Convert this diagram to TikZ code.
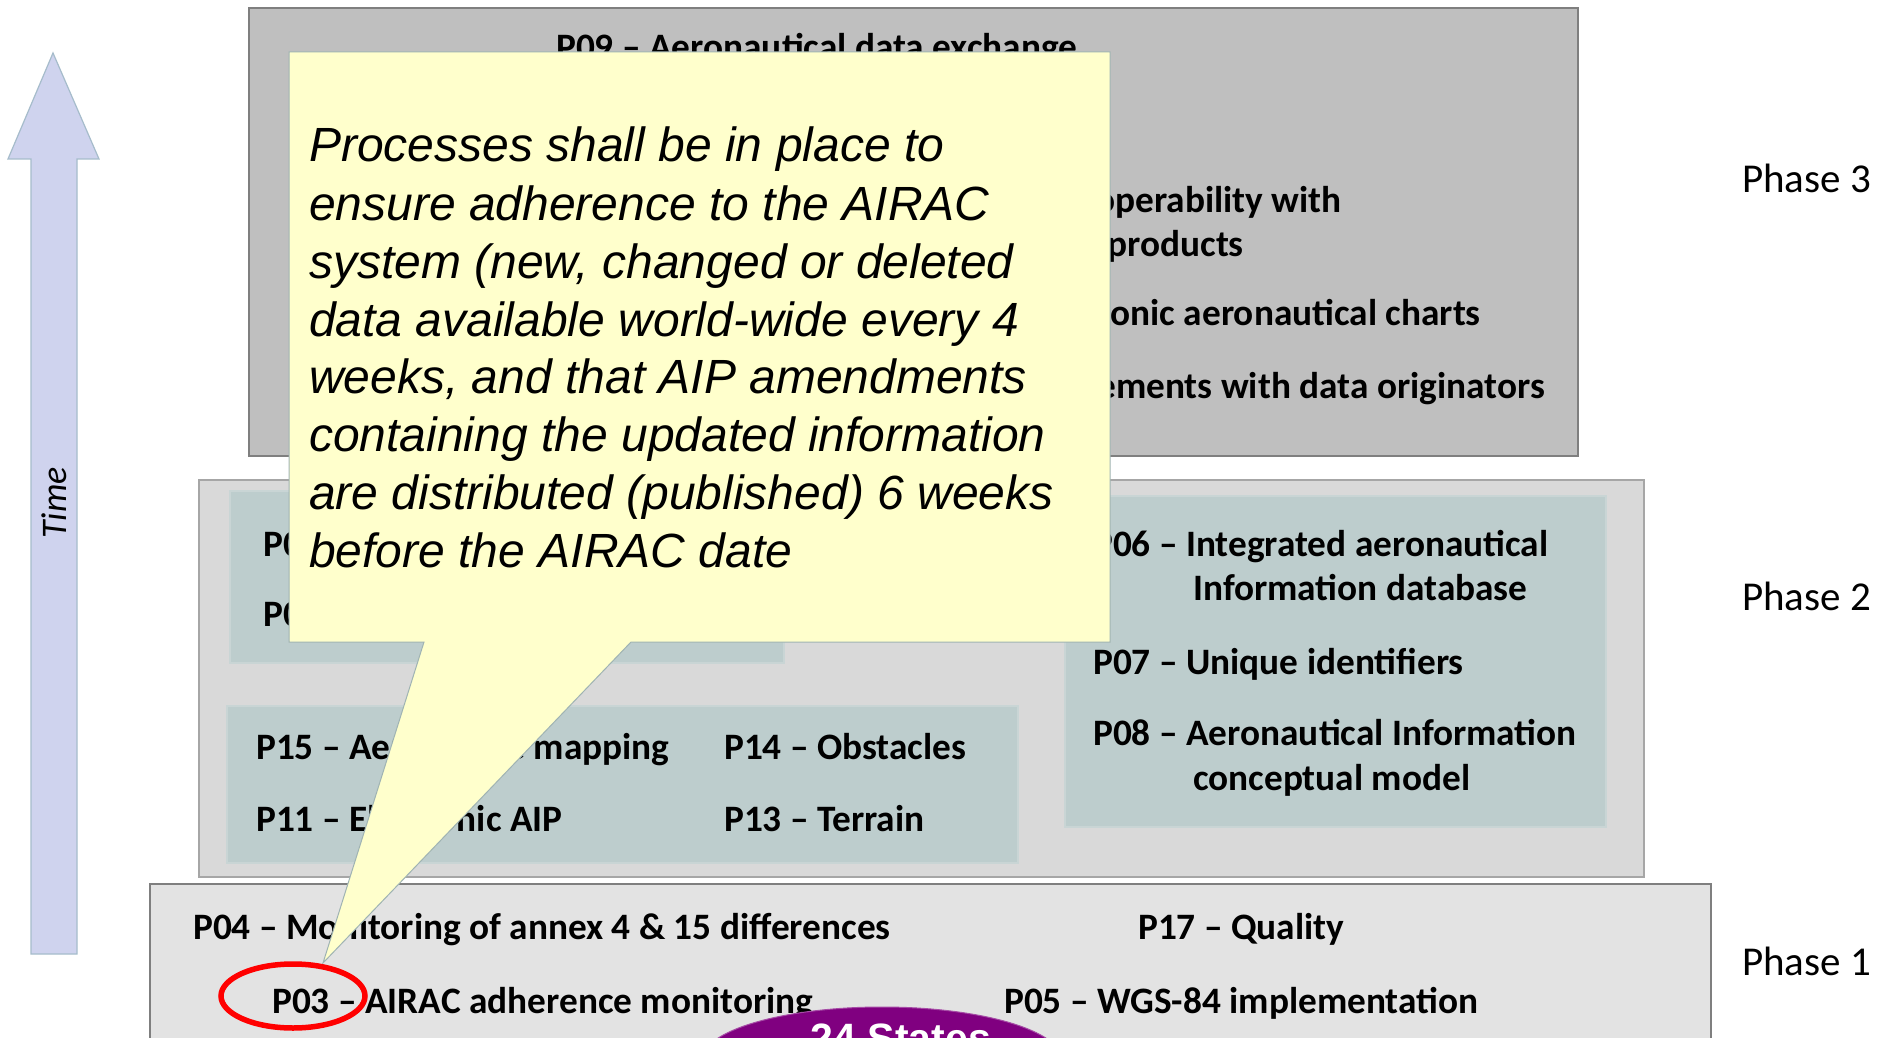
\documentclass[tikz,border=0pt]{standalone}
\usepackage{fontspec}
\setmainfont{Carlito}
\newfontfamily\arialf{Liberation Sans}
\definecolor{pthree}{HTML}{BFBFBF}
\definecolor{ptwo}{HTML}{D9D9D9}
\definecolor{pone}{HTML}{E3E3E3}
\definecolor{innerfill}{HTML}{BDCDCD}
\definecolor{innerline}{HTML}{C9D5D5}
\definecolor{callfill}{HTML}{FFFFCC}
\definecolor{callline}{HTML}{9FB3B3}
\definecolor{arrowfill}{HTML}{CFD3EE}
\definecolor{arrowline}{HTML}{A6BCCB}
\definecolor{boxline}{HTML}{7F7F7F}
\definecolor{purp}{HTML}{800080}
\begin{document}
\begin{tikzpicture}[x=1pt,y=-1pt,
  lbl/.style={font=\fontsize{37.3}{45}\selectfont\bfseries, inner sep=0pt, anchor=base west},
  rlbl/.style={lbl, anchor=base east},
  phaselbl/.style={font=\fontsize{41}{49}\selectfont, inner sep=0pt, anchor=base west},
  calltxt/.style={font=\arialf\itshape\fontsize{48}{58}\selectfont, inner sep=0pt, anchor=base west},
  innerbox/.style={fill=innerfill, draw=innerline, line width=1.2pt},
]
\clip (0,0) rectangle (1891,1038);
\useasboundingbox (0,0) rectangle (1891,1038);
\fill[white] (0,0) rectangle (1891,1038);

% Time arrow
\draw[fill=arrowfill, draw=arrowline, line width=1.2pt]
  (53,53) -- (99,159) -- (77,159) -- (77,954) -- (31,954) -- (31,159) -- (8,159) -- cycle;
\node[rotate=90, font=\fontsize{36}{42}\selectfont\itshape, inner sep=0pt] (time) at (54,503) {Time};

% Phase 3
\draw[fill=pthree, draw=boxline, line width=1.5pt] (249,8) rectangle (1578,456);
\node[lbl] (p09) at (556,60) {P09 – Aeronautical data exchange};
\node[rlbl] (p18a) at (1342,212) {P18 – Interoperability with};
\node[rlbl] (p18b) at (1244,256) {meteorological products};
\node[rlbl] (p19) at (1481,325) {P19 – Electronic aeronautical charts};
\node[rlbl] (p21) at (1545,398) {P21 – Agreements with data originators};

% Phase 2
\draw[fill=ptwo, draw=black!35, line width=1.5pt] (199,480) rectangle (1644,877);
\draw[innerbox] (230,491) rectangle (784,663);
\draw[innerbox] (227,706) rectangle (1018,863);
\draw[innerbox] (1065,496) rectangle (1606,827);
\node[lbl] (p01) at (263,556) {P01 – Data quality monitoring};
\node[lbl] (p02) at (263,626) {P02 – Data integrity monitoring};
\node[lbl] (p15) at (256,759) {P15 – Aerodrome mapping};
\node[lbl] (p14) at (724,759) {P14 – Obstacles};
\node[lbl] (p11) at (256,831) {P11 – Electronic AIP};
\node[lbl] (p13) at (724,831) {P13 – Terrain};
\node[lbl] (p06a) at (1093,556) {P06 – Integrated aeronautical};
\node[lbl] (p06b) at (1193,600) {Information database};
\node[lbl] (p07) at (1093,674) {P07 – Unique identifiers};
\node[lbl] (p08a) at (1093,745) {P08 – Aeronautical Information};
\node[lbl] (p08b) at (1193,790) {conceptual model};

% Phase 1
\draw[fill=pone, draw=boxline, line width=1.5pt] (150,884) rectangle (1711,1060);
\node[lbl] (p04) at (193,939) {P04 – Monitoring of annex 4 \& 15 differences};
\node[lbl] (p17) at (1138,939) {P17 – Quality};
\node[lbl] (p03) at (272,1013) {P03 – AIRAC adherence monitoring};
\node[lbl] (p05) at (1004,1013) {P05 – WGS-84 implementation};

% 24 States
\draw[fill=purp, draw=purp!70!white, line width=1pt] (882,1060) ellipse [x radius=180, y radius=53];
\node[font=\arialf\bfseries\fontsize{41}{49}\selectfont, text=white, inner sep=0pt, anchor=base] (states) at (901,1052) {24 States};

% Phase labels
\node[phaselbl] (ph3) at (1742,193) {Phase 3};
\node[phaselbl] (ph2) at (1742,610) {Phase 2};
\node[phaselbl] (ph1) at (1742,975) {Phase 1};

% Callout
\draw[fill=callfill, draw=callline, line width=1pt]
  (289,52) -- (1110,52) -- (1110,642) -- (631,642) -- (323,963) -- (424,642) -- (289,642) -- cycle;
\node[calltxt] (c1) at (309,162) {Processes shall be in place to};
\node[calltxt] (c2) at (309,220) {ensure adherence to the AIRAC};
\node[calltxt] (c3) at (309,278) {system (new, changed or deleted};
\node[calltxt] (c4) at (309,336) {data available world-wide every 4};
\node[calltxt] (c5) at (309,393) {weeks, and that AIP amendments};
\node[calltxt] (c6) at (309,451) {containing the updated information};
\node[calltxt] (c7) at (309,509) {are distributed (published) 6 weeks};
\node[calltxt] (c8) at (309,567) {before the AIRAC date};

% Red ellipse
\draw[red, line width=5.5pt] (293,996) ellipse [x radius=72, y radius=32];
\end{tikzpicture}
\end{document}
